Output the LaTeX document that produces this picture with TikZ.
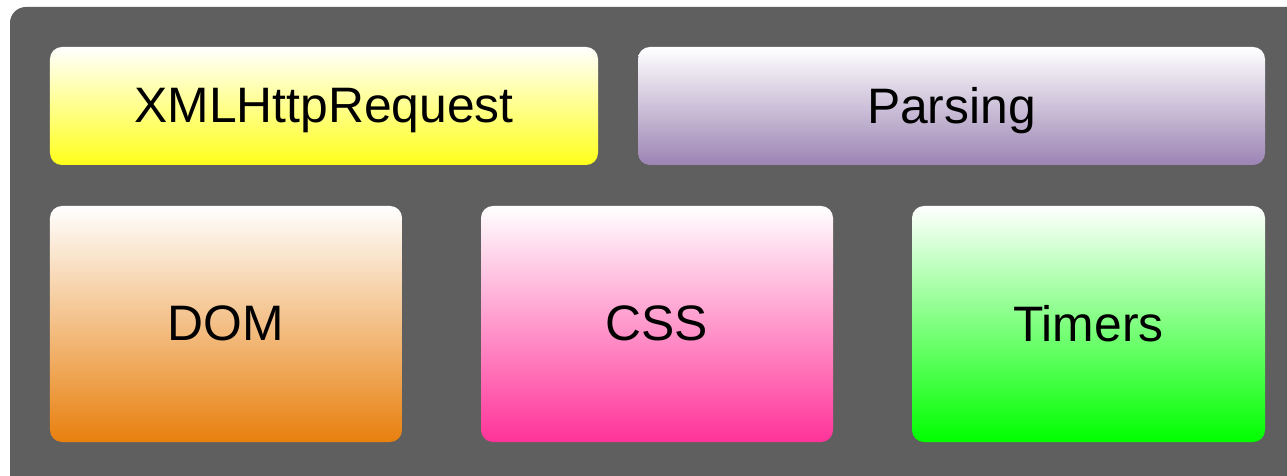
\documentclass[tikz,border=0pt]{standalone}
\usepackage{fontspec}
\setmainfont{Liberation Sans}
\definecolor{panel}{HTML}{5F5F5F}
\definecolor{xhrc}{HTML}{FFFF1A}
\definecolor{parsec}{HTML}{9C84B4}
\definecolor{domc}{HTML}{E8800E}
\definecolor{cssc}{HTML}{FF3399}
\definecolor{timerc}{HTML}{00FF00}
\tikzset{
  block/.style={rectangle, rounded corners=12, inner sep=0pt, top color=white,
    font=\fontsize{50}{60}\selectfont, text=black, text depth=0.2em}
}
\begin{document}
\begin{tikzpicture}[x=1bp, y=-1bp]
  \useasboundingbox (0,0) rectangle (1287,476);
  \fill[white] (0,0) rectangle (1287,476);
  \clip (0,0) rectangle (1287,476);
  % outer panel
  \fill[panel, rounded corners=16] (10,7) rectangle (1320,510);
  % top row
  \node[block, bottom color=xhrc, minimum width=548bp, minimum height=118bp]
    (xhr) at (324,106) {XMLHttpRequest};
  \node[block, bottom color=parsec, minimum width=627bp, minimum height=118bp]
    (parse) at (951.5,106) {Parsing};
  % bottom row
  \node[block, bottom color=domc, minimum width=352bp, minimum height=236bp]
    (dom) at (226,324) {DOM};
  \node[block, bottom color=cssc, minimum width=352bp, minimum height=236bp]
    (css) at (657,324) {CSS};
  \node[block, bottom color=timerc, minimum width=353bp, minimum height=236bp]
    (timers) at (1088.5,324) {Timers};
\end{tikzpicture}
\end{document}
